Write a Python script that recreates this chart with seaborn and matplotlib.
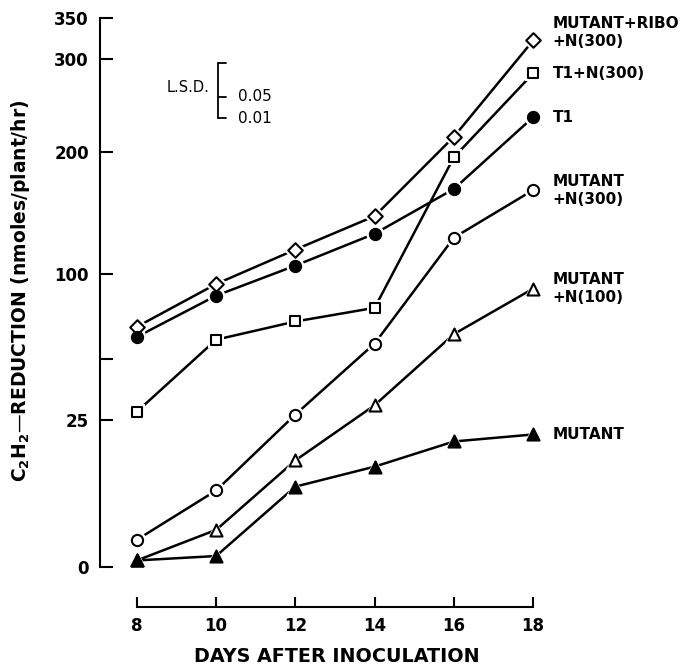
import numpy as np
import pandas as pd
import seaborn as sns
import matplotlib.pyplot as plt

sns.set_style('ticks')
plt.rcParams['font.family'] = ['DejaVu Sans']
plt.rcParams['mathtext.default'] = 'regular'
for k in ['text.color', 'axes.labelcolor', 'xtick.color', 'ytick.color', 'axes.edgecolor']:
    plt.rcParams[k] = 'black'

days = [8, 10, 12, 14, 16, 18]

# C2H2 reduction
ribo_n300 = [67, 93, 117, 143, 215, 322]
t1_n300 = [28, 60, 70, 78, 195, 283]
t1 = [61.5, 85.5, 105.5, 129, 166, 235]
mutant_n300 = [0.86, 6.8, 27, 58, 126, 165]
mutant_n100 = [0.05, 1.6, 13.2, 30.4, 63, 90]
mutant = [0.05, 0.14, 7.5, 11.7, 18.3, 20.4]

names = ['MUTANT+RIBO\n+N(300)', 'T1+N(300)', 'T1', 'MUTANT\n+N(300)',
         'MUTANT\n+N(100)', 'MUTANT']
values = [ribo_n300, t1_n300, t1, mutant_n300, mutant_n100, mutant]
markers = ['D', 's', 'o', 'o', '^', '^']
filled = [False, False, True, False, False, True]
msize = [55, 50, 65, 65, 75, 75]

yticks = [0, 25, 50, 100, 200, 300, 350]
ytick_labels = ['0', '25', '', '100', '200', '300', '350']

# LSD bracket (top, 0.05 level, 0.01 level) in data units
lsd_top, lsd_05, lsd_01 = 295, 257, 234

df = pd.DataFrame({'day': days * len(names),
                   'value': sum(values, []),
                   'series': [n for n in names for _ in days]})

fig = plt.figure(figsize=(6.83, 6.67), dpi=100)
ax = fig.add_axes([100 / 683, 100 / 667, 453 / 683, 549 / 667])
ax.set_yscale('function', functions=(lambda v: np.sqrt(np.clip(v, 0, None)), np.square))

for name, mk, fl, s in zip(names, markers, filled, msize):
    d = df[df['series'] == name]
    sns.lineplot(data=d, x='day', y='value', ax=ax, color='black', lw=1.8, zorder=2)
    # white halo so the line stops short of each symbol
    sns.scatterplot(data=d, x='day', y='value', ax=ax, marker=mk, s=s * 2.6,
                    color='white', edgecolor='white', linewidth=0, zorder=3, clip_on=False)
    sns.scatterplot(data=d, x='day', y='value', ax=ax, marker=mk, s=s,
                    color='black' if fl else 'white', edgecolor='black',
                    linewidth=1.5, zorder=4, clip_on=False)

# spine layout first: moving a spine resets its ticks
sns.despine(ax=ax)
ax.spines['bottom'].set_position(('outward', 29))
ax.spines['bottom'].set_bounds(8, 18)
ax.spines['left'].set_bounds(0, 350)
for sp in ['bottom', 'left']:
    ax.spines[sp].set_linewidth(1.5)

ax.set_xlim(7.07, 18.5)
ax.set_ylim(0, 350)
ax.set_xticks(days)
ax.set_xticklabels([str(d) for d in days], fontweight='bold', fontsize=12)
ax.set_yticks(yticks)
ax.set_yticklabels(ytick_labels, fontweight='bold', fontsize=12)
ax.yaxis.set_minor_locator(plt.NullLocator())
ax.tick_params(axis='y', direction='in', length=9, width=1.5, pad=8)
ax.tick_params(axis='x', direction='in', length=7, width=1.5, pad=7)

ax.set_xlabel('DAYS AFTER INOCULATION', fontweight='bold', fontsize=13.8)
ax.set_ylabel(r'C$_2$H$_2$—REDUCTION (nmoles/plant/hr)', fontweight='bold', fontsize=13.5)
ax.xaxis.set_label_coords(0.523, -0.145)
ax.yaxis.set_label_coords(-0.15, 0.503)

# series labels beside the last point
for name, vals in zip(names, values):
    ax.annotate(name, xy=(18, vals[-1]), xytext=(14, 0), textcoords='offset points',
                ha='left', va='center', fontsize=11, fontweight='bold',
                linespacing=1.25, annotation_clip=False)
ax.texts[0].set_va('bottom')
ax.texts[0].set_position((14, -6))

# L.S.D. bracket
bx = 10.05
ax.plot([bx, bx], [lsd_01, lsd_top], color='black', lw=1.3, clip_on=False)
for yv in (lsd_top, lsd_05, lsd_01):
    ax.plot([bx, bx + 0.2], [yv, yv], color='black', lw=1.3)
ax.text(bx - 0.22, (lsd_top + lsd_01) / 2 + 2, 'L.S.D.', ha='right', va='center', fontsize=10.5)
ax.text(bx + 0.5, lsd_05, '0.05', ha='left', va='center', fontsize=11)
ax.text(bx + 0.5, lsd_01, '0.01', ha='left', va='center', fontsize=11)

fig.savefig('out.png', dpi=100)
